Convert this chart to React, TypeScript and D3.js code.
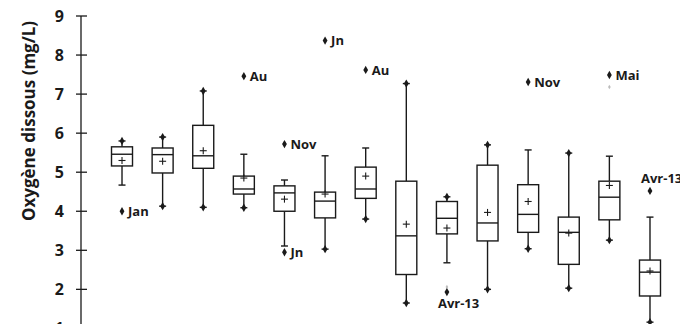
import React from "react";
import * as d3 from "d3";

const categories = ["S1","S2","S3","S4","S5","S6","S7","S8","S9","S10","S11","S12","S13","S14"];
const whiskerLow = [4.67, 4.13, 4.1, 4.09, 3.11, 3.03, 3.8, 1.65, 2.68, 2.0, 3.04, 2.03, 3.26, 1.16];
const q1 =         [5.16, 4.98, 5.1, 4.44, 4.0, 3.83, 4.33, 2.38, 3.42, 3.24, 3.46, 2.64, 3.78, 1.83];
const medians =    [5.46, 5.45, 5.42, 4.57, 4.47, 4.26, 4.57, 3.37, 3.82, 3.7, 3.92, 3.46, 4.36, 2.44];
const q3 =         [5.65, 5.62, 6.2, 4.9, 4.65, 4.49, 5.13, 4.77, 4.25, 5.18, 4.68, 3.85, 4.77, 2.75];
const whiskerHigh =[5.8, 5.9, 7.08, 5.46, 4.8, 5.42, 5.62, 7.27, 4.37, 5.7, 5.57, 5.49, 5.41, 3.85];
const means =      [5.3, 5.28, 5.55, 4.85, 4.31, 4.44, 4.9, 3.67, 3.57, 3.97, 4.25, 3.44, 4.66, 2.47];

const outlierCat =   ["S1", "S4", "S5", "S5", "S6", "S7", "S9", "S11", "S13", "S14"];
const outlierVal =   [4.0, 7.46, 5.72, 2.95, 8.37, 7.62, 1.93, 7.31, 7.49, 4.52];
const outlierLabel = ["Jan", "Au", "Nov", "Jn", "Jn", "Au", "Avr-13", "Nov", "Mai", "Avr-13"];
const outlierPlace = ["right", "right", "right", "right", "right", "right", "below", "right", "right", "above"];

const faintCat = ["S9", "S13"];
const faintVal = [2.06, 7.18];

const yTicks = [1, 2, 3, 4, 5, 6, 7, 8, 9];

const W = 680, H = 324;
const FONT = "'Open Sans', 'DejaVu Sans', sans-serif";
const INK = "#1a1a1a";

export default function App() {
  const y = d3.scaleLinear().domain([1, 9]).range([328.4, 16]);
  const x = d3.scalePoint().domain(categories).range([101.7, 670.3]).padding(0.5);
  const boxW = 21;
  const capW = 7;
  const axisX = 81;
  const diamond = d3.symbol().type(d3.symbolDiamond).size(20)() as string;

  const hasAbove = (c: string) => outlierCat.some((oc, i) => oc === c && outlierVal[i] > whiskerHigh[categories.indexOf(c)]);
  const hasBelow = (c: string) => outlierCat.some((oc, i) => oc === c && outlierVal[i] < whiskerLow[categories.indexOf(c)]);

  return (
    <svg width={W} height={H} style={{ position: "absolute", left: 0, top: 0, background: "#fff" }}>
      {/* Y axis */}
      <line x1={axisX} x2={axisX} y1={y(9)} y2={H} stroke={INK} strokeWidth={1.3} />
      {yTicks.map((t) => (
        <g key={t}>
          <line x1={axisX - 5} x2={axisX + 6} y1={y(t)} y2={y(t)} stroke={INK} strokeWidth={1.3} />
          <text x={64} y={y(t)} dy="0.36em" textAnchor="end" fontFamily={FONT} fontWeight={700} fontSize={16} fill={INK}>{t}</text>
        </g>
      ))}
      <text transform={`translate(29,${121}) rotate(-90)`} textAnchor="middle" dy="0.35em" fontFamily={FONT} fontWeight={700} fontSize={17} fill={INK}>
        Oxygène dissous (mg/L)
      </text>

      {categories.map((c, i) => {
        const cx = x(c)!;
        return (
          <g key={c} stroke={INK} strokeWidth={1.4} fill="none">
            <line x1={cx} x2={cx} y1={y(whiskerHigh[i])} y2={y(q3[i])} />
            <line x1={cx} x2={cx} y1={y(q1[i])} y2={y(whiskerLow[i])} />
            <line x1={cx - capW / 2} x2={cx + capW / 2} y1={y(whiskerHigh[i])} y2={y(whiskerHigh[i])} />
            <line x1={cx - capW / 2} x2={cx + capW / 2} y1={y(whiskerLow[i])} y2={y(whiskerLow[i])} />
            <rect x={cx - boxW / 2} y={y(q3[i])} width={boxW} height={y(q1[i]) - y(q3[i])} fill="#fff" />
            <line x1={cx - boxW / 2} x2={cx + boxW / 2} y1={y(medians[i])} y2={y(medians[i])} />
            <line x1={cx - 3.5} x2={cx + 3.5} y1={y(means[i])} y2={y(means[i])} strokeWidth={1.1} />
            <line x1={cx} x2={cx} y1={y(means[i]) - 3.5} y2={y(means[i]) + 3.5} strokeWidth={1.1} />
            {!hasAbove(c) && <path d={diamond} transform={`translate(${cx},${y(whiskerHigh[i])})`} fill={INK} stroke="none" />}
            {!hasBelow(c) && <path d={diamond} transform={`translate(${cx},${y(whiskerLow[i])})`} fill={INK} stroke="none" />}
          </g>
        );
      })}

      {faintCat.map((c, i) => (
        <path key={"f" + i} d={diamond} transform={`translate(${x(c)},${y(faintVal[i])}) scale(0.55)`} fill="#bbb" />
      ))}

      {outlierCat.map((c, i) => {
        const cx = x(c)!;
        const cy = y(outlierVal[i]);
        const place = outlierPlace[i];
        let tx = cx + 6, ty = cy, anchor = "start";
        if (place === "below") { tx = cx - 9; ty = cy + 11.5; }
        if (place === "above") { tx = cx - 9; ty = cy - 13; }
        return (
          <g key={"o" + i}>
            <path d={diamond} transform={`translate(${cx},${cy})`} fill={INK} />
            <text x={tx} y={ty} dy="0.36em" textAnchor={anchor} fontFamily={FONT} fontWeight={700} fontSize={13} fill={INK}>
              {outlierLabel[i]}
            </text>
          </g>
        );
      })}
    </svg>
  );
}
